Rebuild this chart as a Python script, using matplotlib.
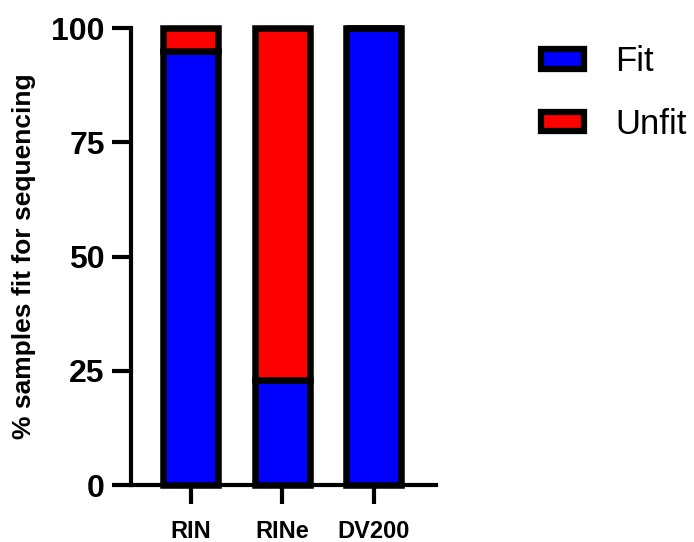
import matplotlib.pyplot as plt
import numpy as np
from matplotlib.patches import Patch

plt.rcParams['font.family'] = ['Liberation Sans', 'DejaVu Sans']

# data
categories = ['RIN', 'RINe', 'DV200']
fit = [95, 23, 100]
unfit = [5, 77, 0]

fig = plt.figure(figsize=(6.94, 5.42), dpi=100)
ax = fig.add_axes([0.189, 0.105, 0.439, 0.843])

x = np.arange(len(categories))
edge_lw = 4.7
ax.bar(x, fit, width=0.6, color='#0000ff', edgecolor='black', linewidth=edge_lw, clip_on=False)
ax.bar(x, unfit, width=0.6, bottom=fit, color='#ff0000', edgecolor='black', linewidth=edge_lw, clip_on=False)

ax.set_xlim(-0.65, 2.68)
ax.set_ylim(0, 100)
ax.set_yticks([0, 25, 50, 75, 100])
ax.set_xticks(x)
ax.set_xticklabels(categories, fontsize=17, fontweight='bold')
for t in ax.get_yticklabels():
    t.set_fontsize(23)
    t.set_fontweight('bold')
ax.tick_params(axis='y', width=3, length=14, pad=5)
ax.tick_params(axis='x', width=3, length=14, pad=11)

for s in ['top', 'right']:
    ax.spines[s].set_visible(False)
for s in ['left', 'bottom']:
    ax.spines[s].set_linewidth(3)

ax.set_ylabel('% samples fit for sequencing', fontsize=19, fontweight='bold', labelpad=11)

handles = [Patch(facecolor='#0000ff', edgecolor='black', linewidth=4.5, label='Fit'),
           Patch(facecolor='#ff0000', edgecolor='black', linewidth=4.5, label='Unfit')]
fig.legend(handles=handles, loc='upper left', bbox_to_anchor=(541 / 694, 1 - 45 / 542), frameon=False,
           fontsize=25, handlelength=1.24, handleheight=0.5, handletextpad=0.9, labelspacing=0.86,
           borderpad=0, borderaxespad=0)

fig.savefig('out.png', dpi=100)
